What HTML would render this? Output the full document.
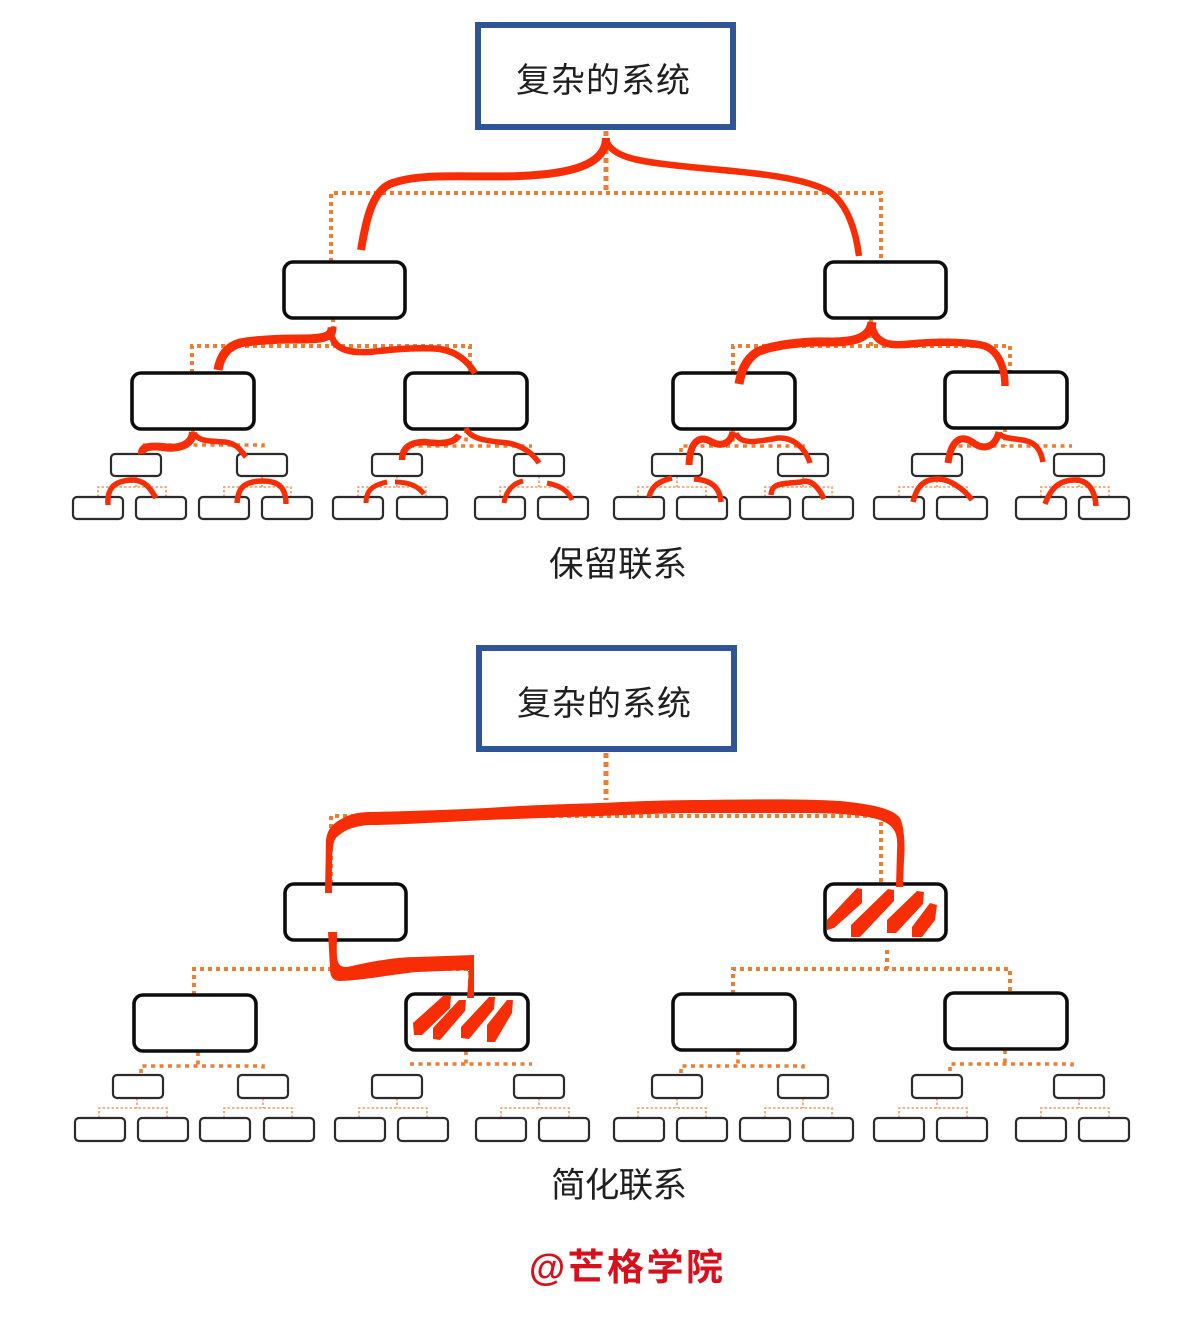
<!DOCTYPE html>
<html lang="zh">
<head>
<meta charset="utf-8">
<title>复杂的系统</title>
<style>
html,body{margin:0;padding:0;background:#fff;width:1200px;height:1317px;overflow:hidden}
svg{display:block;filter:blur(.35px)}
text{font-family:"Liberation Sans","Noto Sans CJK SC",sans-serif;fill:#1f1f1f}
.o0{fill:none;stroke:#ed7d31;stroke-width:5;stroke-dasharray:5 4}
.o1{fill:none;stroke:#ed7d31;stroke-width:4;stroke-dasharray:4 4}
.o2{fill:none;stroke:#ed7d31;stroke-width:3.6;stroke-dasharray:4 4.5}
.o3{fill:none;stroke:#ee9a60;stroke-width:1.6;stroke-dasharray:2.5 2}
.b1{fill:#fff;stroke:#0c0c0c;stroke-width:3.6}
.b3{fill:#fff;stroke:#2b2b2b;stroke-width:2.2}
.r{fill:none;stroke:#f72e05;stroke-linecap:butt;stroke-linejoin:round}
.f{fill:#f72e05}
</style>
</head>
<body>
<svg width="1200" height="1317" viewBox="0 0 1200 1317" xmlns="http://www.w3.org/2000/svg">
<rect width="1200" height="1317" fill="#fff"/>

<!-- TOP: orange connectors -->
<path class="o0" d="M606,131V193"/>
<path class="o1" d="M331,262V193H881V262"/>
<path class="o1" d="M333,318V346M192,373V346H470V373M871,318V346M733,373V346H1010V373"/>
<path class="o2" d="M193,429V445M141,452V445H263V452M466,429V446M410,446H532M733,429V446M681,452V446H803V452M1005,428V446M950,446H1072"/>
<path class="o3" d="M136,476V487M98,497V487H166V497M262,476V487M224,497V487H291V497M397,476V487M358,497V487H426V497M539,476V487M500,497V487H568V497M677,476V487M638,497V487H706V497M803,476V487M765,497V487H832V497M937,476V487M899,497V487H967V497M1079,476V487M1041,497V487H1109V497"/>

<!-- TOP: boxes -->
<rect x="478" y="25" width="255" height="102" fill="#fff" stroke="#2f5597" stroke-width="6"/>
<rect class="b1" x="284" y="262" width="121" height="56" rx="9"/>
<rect class="b1" x="825" y="262" width="121" height="56" rx="9"/>
<rect class="b1" x="132" y="373" width="122" height="56" rx="9"/>
<rect class="b1" x="405" y="373" width="122" height="56" rx="9"/>
<rect class="b1" x="673" y="373" width="122" height="56" rx="9"/>
<rect class="b1" x="945" y="372" width="122" height="56" rx="9"/>
<g>
<rect class="b3" x="111" y="454" width="50" height="22" rx="4"/>
<rect class="b3" x="237" y="454" width="50" height="22" rx="4"/>
<rect class="b3" x="372" y="454" width="50" height="22" rx="4"/>
<rect class="b3" x="514" y="454" width="50" height="22" rx="4"/>
<rect class="b3" x="652" y="454" width="50" height="22" rx="4"/>
<rect class="b3" x="778" y="454" width="50" height="22" rx="4"/>
<rect class="b3" x="912" y="454" width="50" height="22" rx="4"/>
<rect class="b3" x="1054" y="454" width="50" height="22" rx="4"/>
<rect class="b3" x="73" y="497" width="50" height="22" rx="4"/>
<rect class="b3" x="136" y="497" width="50" height="22" rx="4"/>
<rect class="b3" x="199" y="497" width="50" height="22" rx="4"/>
<rect class="b3" x="262" y="497" width="50" height="22" rx="4"/>
<rect class="b3" x="333" y="497" width="50" height="22" rx="4"/>
<rect class="b3" x="397" y="497" width="50" height="22" rx="4"/>
<rect class="b3" x="475" y="497" width="50" height="22" rx="4"/>
<rect class="b3" x="538" y="497" width="50" height="22" rx="4"/>
<rect class="b3" x="614" y="497" width="50" height="22" rx="4"/>
<rect class="b3" x="677" y="497" width="50" height="22" rx="4"/>
<rect class="b3" x="740" y="497" width="50" height="22" rx="4"/>
<rect class="b3" x="803" y="497" width="50" height="22" rx="4"/>
<rect class="b3" x="874" y="497" width="50" height="22" rx="4"/>
<rect class="b3" x="937" y="497" width="50" height="22" rx="4"/>
<rect class="b3" x="1016" y="497" width="50" height="22" rx="4"/>
<rect class="b3" x="1079" y="497" width="50" height="22" rx="4"/>
</g>

<!-- TOP: red hand-drawn -->
<path class="r" stroke-width="8" d="M606,138C606,165 570,174 520,176C470,178 420,172 390,184C372,192 366,220 361,250"/>
<path class="r" stroke-width="6.5" d="M606,140C612,158 640,162 690,167C740,172 800,175 830,192C848,205 856,232 859,256"/>
<path class="r" stroke-width="9" d="M332,327C333,338 320,339 301,339C280,339 256,340 240,343C226,347 220,358 218,370"/>
<path class="r" stroke-width="6.5" d="M332,337C336,350 350,353 370,352C395,349 420,347 440,349C458,352 468,362 475,373"/>
<path class="r" stroke-width="9" d="M872,322C870,338 855,342 830,342C800,341 770,346 757,352C745,360 741,372 739,384"/>
<path class="r" stroke-width="7.5" d="M872,327C876,345 892,346 910,344C940,341 970,342 985,346C1000,352 1005,370 1005,386"/>
<path class="r" stroke-width="8" d="M193,432C192,447 175,449 163,447C152,446 141,446 142,454"/>
<path class="r" stroke-width="5.5" d="M194,433C198,442 212,441 225,442C238,444 241,451 246,457"/>
<path class="r" stroke-width="6.5" d="M459,435C454,444 440,444 425,442C410,442 402,448 402,460"/>
<path class="r" stroke-width="5.5" d="M466,428C470,440 490,441 508,443C524,446 533,454 539,463"/>
<path class="r" stroke-width="7" d="M733,432C730,445 720,447 710,441C700,436 690,440 689,465"/>
<path class="r" stroke-width="5.5" d="M736,433C740,446 760,441 778,438C795,437 806,450 810,463"/>
<path class="r" stroke-width="7" d="M999,432C995,447 985,450 975,444C965,436 952,434 948,463"/>
<path class="r" stroke-width="5.5" d="M999,433C1003,440 1020,438 1030,442C1038,446 1041,452 1043,462"/>
<path class="r" stroke-width="5.5" d="M108,505C107,490 112,481 132,480C146,480 151,490 156,498"/>
<path class="r" stroke-width="5.5" d="M237,503C238,487 245,481 263,481C278,481 286,487 286,504"/>
<path class="r" stroke-width="5" d="M366,503C366,490 373,485 387,482M395,482C408,482 418,486 424,494"/>
<path class="r" stroke-width="5" d="M504,503C506,490 514,483 523,481M547,483C558,485 568,490 572,500"/>
<path class="r" stroke-width="5.5" d="M649,497C652,485 660,481 672,478M694,479C712,480 720,488 721,502"/>
<path class="r" stroke-width="5.5" d="M771,495C772,483 780,484 801,482C812,478 820,490 824,499"/>
<path class="r" stroke-width="5.5" d="M913,502C917,485 925,479 938,479C950,479 965,490 972,500"/>
<path class="r" stroke-width="5.5" d="M1045,504C1052,485 1062,480 1075,480C1088,480 1095,490 1096,506"/>

<text x="516" y="92" font-size="34" textLength="174" lengthAdjust="spacing">复杂的系统</text>
<text x="549" y="576" font-size="34.5" textLength="138" lengthAdjust="spacing">保留联系</text>

<!-- BOTTOM: orange connectors -->
<path class="o0" d="M606,753V800"/>
<path class="o1" d="M331,884V816H881V884"/>
<path class="o1" d="M887,950V969M194,995V969H470V994M733,994V969H1010V993"/>
<path class="o2" d="M198,1052V1066M141,1073V1066H263V1073M466,1051V1064M410,1064H532M738,1051V1066M681,1073V1066H803V1073M1005,1050V1064M950,1071V1064H1072V1071"/>
<path class="o3" d="M137,1098V1108M99,1118V1108H167V1118M263,1098V1108M224,1118V1108H292V1118M397,1098V1108M359,1118V1108H427V1118M539,1098V1108M501,1118V1108H569V1118M677,1098V1108M638,1118V1108H706V1118M803,1098V1108M765,1118V1108H832V1118M937,1098V1108M899,1118V1108H967V1118M1079,1098V1108M1041,1118V1108H1109V1118"/>

<!-- BOTTOM: boxes -->
<rect x="479" y="648" width="255" height="101" fill="#fff" stroke="#2f5597" stroke-width="6"/>
<rect class="b1" x="285" y="884" width="121" height="56" rx="9"/>
<rect class="b1" x="825" y="884" width="121" height="56" rx="9"/>
<rect class="b1" x="134" y="995" width="122" height="56" rx="9"/>
<rect class="b1" x="406" y="994" width="122" height="56" rx="9"/>
<rect class="b1" x="673" y="994" width="122" height="56" rx="9"/>
<rect class="b1" x="945" y="993" width="122" height="56" rx="9"/>
<g>
<rect class="b3" x="113" y="1075" width="50" height="23" rx="4"/>
<rect class="b3" x="238" y="1075" width="50" height="23" rx="4"/>
<rect class="b3" x="372" y="1075" width="50" height="23" rx="4"/>
<rect class="b3" x="514" y="1075" width="50" height="23" rx="4"/>
<rect class="b3" x="652" y="1075" width="50" height="23" rx="4"/>
<rect class="b3" x="778" y="1075" width="50" height="23" rx="4"/>
<rect class="b3" x="912" y="1075" width="50" height="23" rx="4"/>
<rect class="b3" x="1054" y="1075" width="50" height="23" rx="4"/>
<rect class="b3" x="75" y="1118" width="50" height="23" rx="4"/>
<rect class="b3" x="138" y="1118" width="50" height="23" rx="4"/>
<rect class="b3" x="200" y="1118" width="50" height="23" rx="4"/>
<rect class="b3" x="264" y="1118" width="50" height="23" rx="4"/>
<rect class="b3" x="335" y="1118" width="50" height="23" rx="4"/>
<rect class="b3" x="398" y="1118" width="50" height="23" rx="4"/>
<rect class="b3" x="476" y="1118" width="50" height="23" rx="4"/>
<rect class="b3" x="539" y="1118" width="50" height="23" rx="4"/>
<rect class="b3" x="614" y="1118" width="50" height="23" rx="4"/>
<rect class="b3" x="677" y="1118" width="50" height="23" rx="4"/>
<rect class="b3" x="740" y="1118" width="50" height="23" rx="4"/>
<rect class="b3" x="803" y="1118" width="50" height="23" rx="4"/>
<rect class="b3" x="874" y="1118" width="50" height="23" rx="4"/>
<rect class="b3" x="937" y="1118" width="50" height="23" rx="4"/>
<rect class="b3" x="1016" y="1118" width="50" height="23" rx="4"/>
<rect class="b3" x="1079" y="1118" width="50" height="23" rx="4"/>
</g>

<!-- BOTTOM: red thick connectors -->
<path class="f" d="M325,893L326,840C327,832 330,826 338,821C348,815 355,812 372,812C410,811 450,810 487,808C530,805 570,804 600,803C640,801 670,800 704,800C760,799 810,799 840,801C870,804 892,808 900,818C905,828 905,850 904,860L903,887L896,887L897,850C898,835 896,826 880,820C865,815 840,813 800,813L704,813C660,813 630,815 600,816C560,817 520,819 487,820C440,822 400,825 370,825C352,826 344,831 338,836C332,841 332,848 332,893Z"/>
<path class="f" d="M328,932L337,932C337,945 336,956 338,962C340,967 344,968 352,966C370,962 395,957 417,957L474,955L474,998L467,998L469,970L417,972C395,974 365,980 340,981C333,981 330,977 330,968Z"/>

<!-- BOTTOM: hatching -->
<polygon class="f" points="827,920 857,888 862,889 862,903 834,928 827,930"/>
<polygon class="f" points="851,925 888,889 894,890 894,901 860,937 851,937"/>
<polygon class="f" points="887,920 917,891 924,892 923,904 896,933 887,933"/>
<polygon class="f" points="912,927 930,903 937,905 935,920 922,937 912,937"/>
<polygon class="f" points="413,1023 443,996 451,996 450,1008 422,1035 414,1035"/>
<polygon class="f" points="433,1028 459,1000 466,1000 465,1011 440,1040 433,1039"/>
<polygon class="f" points="461,1027 489,997 495,997 494,1009 469,1039 461,1038"/>
<polygon class="f" points="487,1025 507,1000 513,1000 512,1013 495,1042 487,1042"/>

<text x="517" y="715" font-size="34" textLength="174" lengthAdjust="spacing">复杂的系统</text>
<text x="551" y="1197" font-size="34.5" textLength="136" lengthAdjust="spacing">简化联系</text>
<text x="529" y="1280" font-size="37" font-weight="700" style="fill:#d8101c" textLength="194" lengthAdjust="spacing">@芒格学院</text>
</svg>
</body>
</html>
